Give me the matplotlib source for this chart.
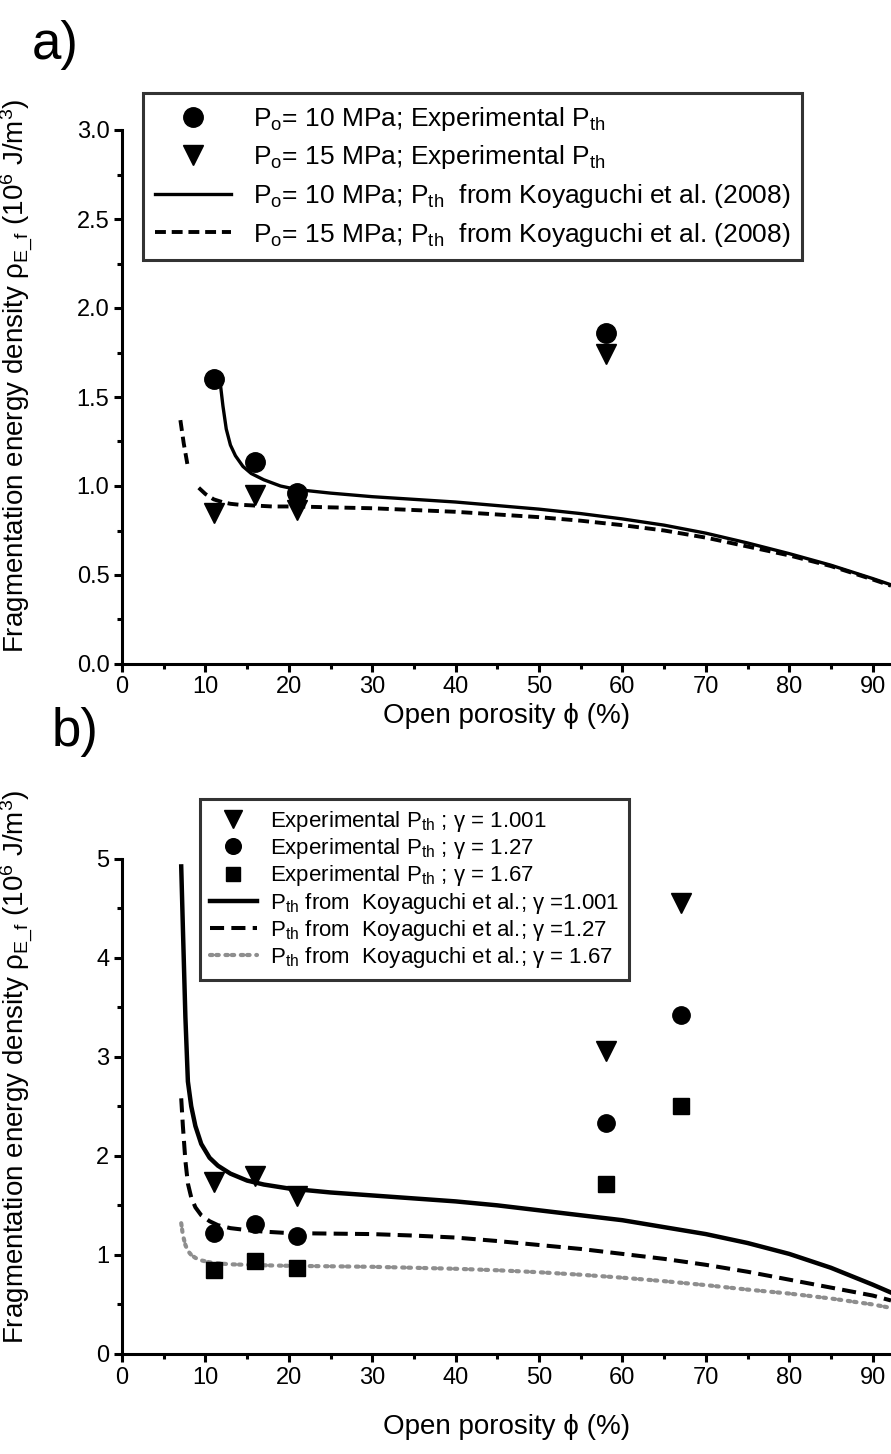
import numpy as np
import matplotlib
matplotlib.use("Agg")
import matplotlib.pyplot as plt
from matplotlib.ticker import MultipleLocator

plt.rcParams['font.family'] = ['Liberation Sans', 'DejaVu Sans']
plt.rcParams['mathtext.fontset'] = 'custom'
plt.rcParams['mathtext.rm'] = 'Liberation Sans'
plt.rcParams['mathtext.it'] = 'Liberation Sans:italic'
plt.rcParams['mathtext.bf'] = 'Liberation Sans:bold'

# ---- panel a: fragmentation energy density for two initial pressures ----
porosity_exp_a = [11, 16, 21, 58]
energy_10mpa_exp = [1.60, 1.135, 0.96, 1.86]
energy_15mpa_exp = [0.85, 0.95, 0.865, 1.74]

porosity_k10 = [11.8, 12.1, 12.5, 13.0, 13.6, 14.5, 15.5, 17, 19, 21, 25, 30, 35,
                40, 45, 50, 55, 60, 65, 70, 75, 80, 85, 90, 92.2]
energy_k10 = [1.57, 1.45, 1.32, 1.23, 1.17, 1.11, 1.07, 1.035, 1.00, 0.98, 0.96,
              0.94, 0.925, 0.91, 0.89, 0.87, 0.845, 0.815, 0.78, 0.735, 0.68,
              0.62, 0.555, 0.48, 0.445]

porosity_k15 = [7.0, 7.4, 7.85, np.nan, 9.2, 10, 11, 12, 13, 14, 16, 18, 21, 25, 30,
                35, 40, 45, 50, 55, 60, 65, 70, 75, 80, 85, 90, 92.2]
energy_k15 = [1.37, 1.24, 1.12, np.nan, 0.99, 0.955, 0.925, 0.91, 0.90, 0.895, 0.89,
              0.885, 0.885, 0.88, 0.875, 0.865, 0.855, 0.84, 0.825, 0.805, 0.78,
              0.75, 0.71, 0.66, 0.61, 0.55, 0.475, 0.44]

# ---- panel b: effect of the adiabatic exponent gamma ----
porosity_exp_b = [11, 16, 21, 58, 67]
energy_g1001_exp = [1.74, 1.80, 1.59, 3.06, 4.55]
energy_g127_exp = [1.22, 1.31, 1.19, 2.33, 3.42]
energy_g167_exp = [0.85, 0.94, 0.87, 1.715, 2.50]

porosity_k = [7.1, 7.3, 7.6, 7.9, 8.3, 8.8, 9.5, 10.5, 11.5, 13, 15, 17, 20, 25, 30,
              35, 40, 45, 50, 55, 60, 65, 70, 75, 80, 85, 90, 92.2]
energy_k_g1001 = [4.92, 4.3, 3.4, 2.75, 2.5, 2.3, 2.12, 1.98, 1.9, 1.82, 1.75, 1.71,
                  1.67, 1.63, 1.6, 1.57, 1.54, 1.5, 1.45, 1.40, 1.35, 1.28, 1.21,
                  1.12, 1.01, 0.87, 0.70, 0.62]
energy_k_g127 = [2.58, 2.3, 1.95, 1.72, 1.58, 1.48, 1.40, 1.34, 1.30, 1.27, 1.25,
                 1.235, 1.22, 1.215, 1.21, 1.195, 1.175, 1.14, 1.10, 1.06, 1.01,
                 0.96, 0.90, 0.83, 0.75, 0.67, 0.59, 0.54]
energy_k_g167 = [1.32, 1.2, 1.1, 1.04, 1.0, 0.97, 0.945, 0.925, 0.915, 0.905, 0.9,
                 0.895, 0.89, 0.885, 0.88, 0.87, 0.86, 0.845, 0.825, 0.80, 0.77,
                 0.735, 0.695, 0.65, 0.61, 0.56, 0.50, 0.465]

W, H = 891, 1454
fig = plt.figure(figsize=(W / 100, H / 100), dpi=100)
fig.patch.set_facecolor('white')


def frac_axes(left_px, top_px, right_px, bottom_px):
    return fig.add_axes([left_px / W, 1 - bottom_px / H,
                         (right_px - left_px) / W, (bottom_px - top_px) / H])


def style_axes(ax, ymax, ymajor, yminor, yfmt):
    for side in ('top', 'right'):
        ax.spines[side].set_visible(False)
    for side in ('left', 'bottom'):
        ax.spines[side].set_linewidth(2.2)
    ax.set_xlim(0, 92.2)
    ax.set_ylim(0, ymax)
    ax.xaxis.set_major_locator(MultipleLocator(10))
    ax.xaxis.set_minor_locator(MultipleLocator(5))
    ax.yaxis.set_major_locator(MultipleLocator(ymajor))
    ax.yaxis.set_minor_locator(MultipleLocator(yminor))
    ax.yaxis.set_major_formatter(yfmt)
    ax.tick_params(which='major', direction='out', length=6, width=2.2,
                   labelsize=17, pad=3)
    ax.tick_params(which='minor', direction='out', length=3.5, width=2.2)


ylabel = r"Fragmentation energy density ρ$_{\mathrm{E\_f}}$ (10$^{6}$ J/m$^{3}$)"
xlabel = "Open porosity ϕ (%)"

# ---------------- panel a ----------------
ax1 = frac_axes(122, 130, 891, 664)
style_axes(ax1, 3.0, 0.5, 0.25, '{x:.1f}')
ax1.plot(porosity_k10, energy_k10, color='black', lw=2.4,
         label=r"P$_{\mathrm{o}}$= 10 MPa; P$_{\mathrm{th}}$  from Koyaguchi et al. (2008)")
ax1.plot(porosity_k15, energy_k15, color='black', lw=2.8, linestyle=(0, (2.8, 1.5)),
         label=r"P$_{\mathrm{o}}$= 15 MPa; P$_{\mathrm{th}}$  from Koyaguchi et al. (2008)")
ax1.plot(porosity_exp_a, energy_10mpa_exp, 'o', color='black', ms=14, ls='none',
         label=r"P$_{\mathrm{o}}$= 10 MPa; Experimental P$_{\mathrm{th}}$")
ax1.plot(porosity_exp_a, energy_15mpa_exp, 'v', color='black', ms=15, ls='none',
         label=r"P$_{\mathrm{o}}$= 15 MPa; Experimental P$_{\mathrm{th}}$")
ax1.set_xlabel(xlabel, fontsize=20, labelpad=3)
ax1.set_ylabel(ylabel, fontsize=20)
ax1.yaxis.set_label_coords(-0.113, 0.54)

h, l = ax1.get_legend_handles_labels()
order = [2, 3, 0, 1]
leg1 = ax1.legend([h[i] for i in order], [l[i] for i in order],
                  loc='upper left', bbox_to_anchor=(143 / W, 1 - 93 / H),
                  bbox_transform=fig.transFigure, borderaxespad=0,
                  fontsize=19, frameon=True, fancybox=False, edgecolor='black',
                  handlelength=2.9, handletextpad=0.8, labelspacing=0.4,
                  borderpad=0.45, markerscale=1.0)
leg1.get_frame().set_linewidth(2.2)
fig.text(55 / W, 1 - 45 / H, "a)", fontsize=38, ha='center', va='center')

# ---------------- panel b ----------------
ax2 = frac_axes(122, 858.5, 891, 1354)
style_axes(ax2, 5.0, 1, 0.5, '{x:.0f}')
gray_dots = (0, (0.6, 0.9, 0.6, 1.6))
l1, = ax2.plot(porosity_k, energy_k_g1001, color='black', lw=3.2)
l2, = ax2.plot(porosity_k, energy_k_g127, color='black', lw=2.9,
               linestyle=(0, (3.5, 1.8)))
l3, = ax2.plot(porosity_k, energy_k_g167, color='#8e8e8e', lw=3.0,
               linestyle=gray_dots, dash_capstyle='round')
m1, = ax2.plot(porosity_exp_b, energy_g1001_exp, 'v', color='black', ms=14, ls='none')
m2, = ax2.plot(porosity_exp_b, energy_g127_exp, 'o', color='black', ms=12.5, ls='none')
m3, = ax2.plot(porosity_exp_b, energy_g167_exp, 's', color='black', ms=11, ls='none')
ax2.set_xlabel(xlabel, fontsize=20, labelpad=18)
ax2.set_ylabel(ylabel, fontsize=20)
ax2.yaxis.set_label_coords(-0.113, 0.58)

labels_b = [r"Experimental P$_{\mathrm{th}}$ ; γ = 1.001",
            r"Experimental P$_{\mathrm{th}}$ ; γ = 1.27",
            r"Experimental P$_{\mathrm{th}}$ ; γ = 1.67",
            r"P$_{\mathrm{th}}$ from  Koyaguchi et al.; γ =1.001",
            r"P$_{\mathrm{th}}$ from  Koyaguchi et al.; γ =1.27",
            r"P$_{\mathrm{th}}$ from  Koyaguchi et al.; γ = 1.67"]
leg2 = ax2.legend([m1, m2, m3, l1, l2, l3], labels_b,
                  loc='upper left', bbox_to_anchor=(200 / W, 1 - 799 / H),
                  bbox_transform=fig.transFigure, borderaxespad=0,
                  fontsize=16, frameon=True, fancybox=False, edgecolor='black',
                  handlelength=2.1, handletextpad=0.6, labelspacing=0.1,
                  borderpad=0.45, markerscale=0.9)
leg2.get_frame().set_linewidth(2.2)
fig.text(75 / W, 1 - 732 / H, "b)", fontsize=38, ha='center', va='center')

fig.savefig("out.png", dpi=100, facecolor='white')
